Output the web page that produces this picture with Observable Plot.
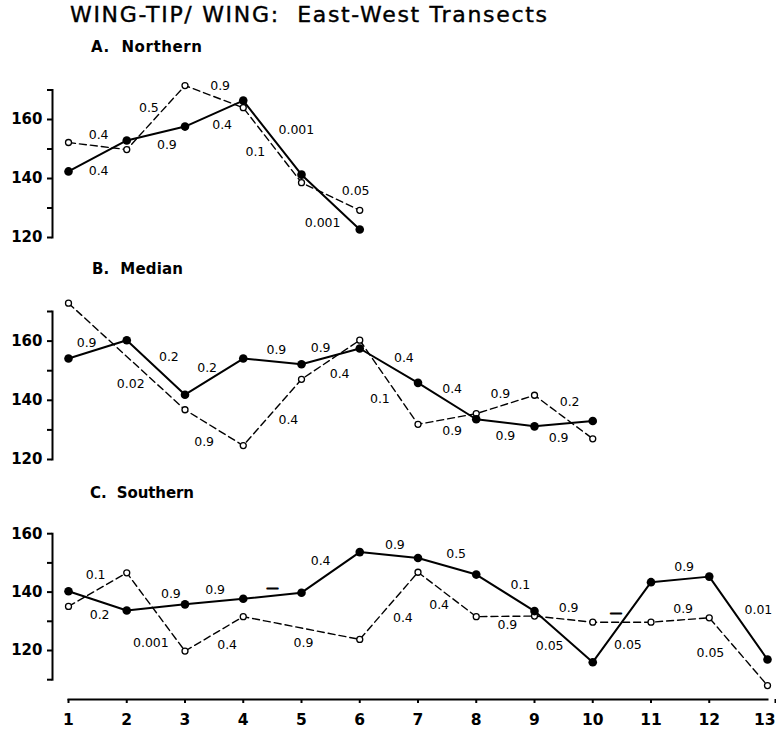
<!DOCTYPE html>
<html><head><meta charset="utf-8">
<script src="https://cdn.jsdelivr.net/npm/d3@7"></script>
<script src="https://cdn.jsdelivr.net/npm/@observablehq/plot@0.6"></script>
<style>
body{margin:0;background:#fff;}
#wrap{position:relative;width:776px;height:730px;overflow:hidden;background:#fff;}
.t{position:absolute;white-space:pre;font-family:"DejaVu Sans";color:#000;}
#title{left:70px;top:4px;font-size:22px;line-height:22px;-webkit-text-stroke:0.4px #000;}
.sub{font-size:15px;line-height:15px;font-weight:bold;}
svg{position:absolute;left:0;}
</style></head><body>
<div id="wrap">
 <div id="title" class="t" data-w="477">WING-TIP/ WING:  East-West Transects</div>
 <div class="t sub" style="left:91px;top:40px" data-w="111">A.  Northern</div>
 <div class="t sub" style="left:92px;top:262px" data-w="91">B.  Median</div>
 <div class="t sub" style="left:90px;top:486px" data-w="104">C.  Southern</div>
</div>
<script>
// ---- data ----
const sites = [1,2,3,4,5,6,7,8,9,10,11,12,13];
const yTickLabels = [120, 140, 160];

// A. Northern
const northSolid  = [142.4, 152.9, 157.6, 166.4, 141.3, 122.7];
const northDashed = [152.2, 149.8, 171.5, 164.0, 138.6, 129.2];
const northPSolid  = ["0.4", "0.9", "0.4", "0.001", "0.001"];
const northPDashed = ["0.4", "0.5", "0.9", "0.1", "0.05"];

// B. Median
const medianSolid  = [154.1, 160.3, 141.9, 154.1, 152.2, 157.5, 145.9, 133.6, 131.2, 133.0];
const medianDashed = [172.8, null, 136.8, 124.7, 147.1, 160.3, 131.9, 135.5, 141.7, 127.0];
const medianPSolid  = ["0.9", "0.2", "0.2", "0.9", "0.9", "0.4", "0.4", "0.9", "0.9"];
const medianPDashed = ["0.02", "0.9", "0.4", "0.4", "0.1", "0.9", "0.9", "0.2"];

// C. Southern
const southSolid  = [140.3, 133.7, 135.8, 137.7, 139.8, 153.7, 151.7, 146.0, 133.5, 116.0, 143.4, 145.3, 116.9];
const southDashed = [135.1, 146.6, 119.8, 131.6, null, 123.8, 146.8, 131.6, 131.8, 129.7, 129.7, 131.2, 108.0];
const southPSolid  = ["0.2", "0.9", "0.9", "—", "0.4", "0.9", "0.5", "0.1", "0.05", "0.05", "0.9", "0.01"];
const southPDashed = ["0.1", "0.001", "0.4", "0.9", "0.4", "0.4", "0.9", "0.9", "—", "0.9", "0.05"];

// ---- label placement (pixel nudges from segment midpoints) ----
const northNudgeSolid  = [[1,15],[11,11],[8,11],[24,-8],[-8,21]];
const northNudgeDashed = [[1,-11],[-7,-10],[6,-11],[-17,7],[25,-5]];
const medianNudgeSolid  = [[-11,-6],[13,-10],[-7,-9],[4,-11],[-10,-8],[15,-8],[5,-12],[0,13],[-5,14]];
const medianNudgeDashed = [[4,28],[-10,14],[16,8],[9,14],[-9,17],[5,12],[-5,-10],[6,-15]];
const southNudgeSolid  = [[2,14],[15,-13],[1,-12],[0,-8],[-10,-11],[6,-10],[9,-12],[15,-8],[-14,9],[6,23],[4,-12],[20,-8]];
const southNudgeDashed = [[-2,-15],[-5,31],[13,11],[2,15],[14,12],[-8,11],[2,9],[5,-11],[-6,-9],[3,-11],[-28,1]];

const FONT = "DejaVu Sans";

function points(values) {
  return values.map((v, i) => ({site: sites[i], v})).filter(d => d.v != null);
}
function segLabels(pts, texts, nudges) {
  return pts.slice(1).map((p, i) => ({
    x: (pts[i].site + p.site) / 2,
    y: (pts[i].v + p.v) / 2,
    text: texts[i], dx: nudges[i][0], dy: nudges[i][1]
  }));
}

function panel(cfg) {
  const ps = points(cfg.solid), pd = points(cfg.dashed);
  const labels = [...segLabels(ps, cfg.pSolid, cfg.nSolid), ...segLabels(pd, cfg.pDashed, cfg.nDashed)];
  const svg = Plot.plot({
    width: 776, height: cfg.height,
    marginLeft: 52, marginRight: 9, marginTop: cfg.mt, marginBottom: cfg.mb,
    x: {domain: [1, 13], insetLeft: 16, axis: null},
    y: {domain: cfg.yDomain, axis: null},
    style: {fontFamily: FONT, background: "transparent", overflow: "visible", color: "black"},
    marks: [
      Plot.frame({anchor: "left", strokeWidth: 2}),
      Plot.axisY({ticks: cfg.yTicks, tickFormat: d => yTickLabels.includes(d) ? String(d) : "",
        tickSize: 5, tickPadding: 5, strokeWidth: 2, fontSize: 15, fontWeight: "bold", label: null}),
      Plot.lineY(pd, {x: "site", y: "v", stroke: "black", strokeWidth: 1.4, strokeDasharray: "7,4"}),
      Plot.lineY(ps, {x: "site", y: "v", stroke: "black", strokeWidth: 2}),
      Plot.dot(pd, {x: "site", y: "v", r: 3, fill: "white", stroke: "black", strokeWidth: 1.3}),
      Plot.dot(ps, {x: "site", y: "v", r: 4.3, fill: "black"}),
      ...labels.map(l => Plot.text([l], {x: "x", y: "y", text: "text", dx: l.dx, dy: l.dy,
        fontSize: 12.5, fill: "black",
        stroke: l.text === "—" ? "black" : "none", strokeWidth: l.text === "—" ? 0.9 : 0}))
    ]
  });
  svg.style.top = cfg.top + "px";
  return svg;
}

const wrap = document.getElementById("wrap");
wrap.appendChild(panel({solid: northSolid, dashed: northDashed, pSolid: northPSolid, pDashed: northPDashed,
  nSolid: northNudgeSolid, nDashed: northNudgeDashed, yDomain: [120, 170], yTicks: [120,130,140,150,160,170],
  top: 60, height: 190, mt: 29.5, mb: 13}));
wrap.appendChild(panel({solid: medianSolid, dashed: medianDashed, pSolid: medianPSolid, pDashed: medianPDashed,
  nSolid: medianNudgeSolid, nDashed: medianNudgeDashed, yDomain: [120, 170], yTicks: [120,130,140,150,160,170],
  top: 280, height: 190, mt: 31, mb: 11}));
wrap.appendChild(panel({solid: southSolid, dashed: southDashed, pSolid: southPSolid, pDashed: southPDashed,
  nSolid: southNudgeSolid, nDashed: southNudgeDashed, yDomain: [110, 160], yTicks: [110,120,130,140,150,160],
  top: 505, height: 185, mt: 28.2, mb: 10.8}));

const lastSite = sites[sites.length - 1];
const xAxis = Plot.plot({
  width: 776, height: 40, marginLeft: 68, marginRight: 9, marginTop: 0, marginBottom: 31,
  x: {domain: [1, 13], axis: null},
  style: {fontFamily: FONT, background: "transparent", overflow: "visible", color: "black"},
  marks: [
    Plot.frame({anchor: "bottom", strokeWidth: 2}),
    Plot.axisX({ticks: sites, tickFormat: d => String(d), tickSize: 4, tickPadding: 10,
      strokeWidth: 2, fontSize: 15.5, fontWeight: "bold", label: null,
      filter: d => d !== lastSite}),
    Plot.axisX({ticks: [lastSite], tickFormat: d => String(d), tickSize: 4, tickPadding: 10,
      strokeWidth: 2, fontSize: 15.5, fontWeight: "bold", label: null, textAnchor: "end", dx: 8})
  ]
});
xAxis.style.top = "690px";
wrap.appendChild(xAxis);

// fit header text widths
document.querySelectorAll("[data-w]").forEach(el => {
  const target = +el.dataset.w;
  const w = el.getBoundingClientRect().width;
  const n = el.textContent.length;
  el.style.letterSpacing = ((target - w) / (n - 1)) + "px";
});
</script>
</body></html>
